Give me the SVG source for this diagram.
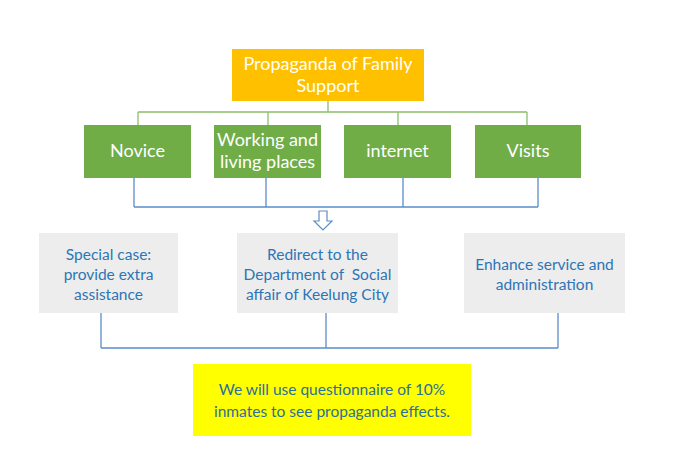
<svg xmlns="http://www.w3.org/2000/svg" width="678" height="474" viewBox="0 0 678 474">
<style>
text{font-family:Lato,"Open Sans","Liberation Sans",sans-serif;text-anchor:middle}
.w{fill:#fff;font-size:18px}
.b{fill:#2E75B6;font-size:15.5px}
.y{fill:#2E6F9A;font-size:15.5px}
.g{fill:#70AD47}
.gr{fill:#EDEDED}
.cg{stroke:#8CBF6A;stroke-width:1.3;fill:none}
.cb{stroke:#5B8DC9;stroke-width:1.3;fill:none}
</style>
<rect width="678" height="474" fill="#fff"/>
<g id="connectors">
<path class="cg" d="M328 101V112M138 112H527M138 112V125M268 112V125M398 112V125M527 112V125"/>
<path class="cb" d="M134 178V207M266 178V207M403 178V207M538 178V207M134 207H538"/>
<path class="cb" d="M101 313V348M326 313V348M558 313V348M101 348H558"/>
<path d="M319 211H327V221H332L323 230L314 221H319Z" fill="#fff" stroke="#5B8DC9" stroke-width="1.2"/>
</g>
<g id="top"><rect x="232" y="49" width="192" height="52" fill="#FFC000"/>
<text class="w" x="328" y="70">Propaganda of Family</text><text class="w" x="328" y="92">Support</text></g>
<g id="novice"><rect class="g" x="84" y="125" width="107" height="53"/><text class="w" x="137.5" y="157">Novice</text></g>
<g id="working"><rect class="g" x="214" y="125" width="107" height="53"/><text class="w" x="267.5" y="146">Working and</text><text class="w" x="267.5" y="168">living places</text></g>
<g id="internet"><rect class="g" x="344" y="125" width="107" height="53"/><text class="w" x="397.5" y="157">internet</text></g>
<g id="visits"><rect class="g" x="475" y="125" width="106" height="53"/><text class="w" x="528" y="157">Visits</text></g>
<g id="special"><rect class="gr" x="39" y="233" width="139" height="80"/><text class="b" x="108.5" y="260">Special case:</text><text class="b" x="108.5" y="280">provide extra</text><text class="b" x="108.5" y="300">assistance</text></g>
<g id="redirect"><rect class="gr" x="237" y="233" width="161" height="80"/><text class="b" x="317.5" y="260">Redirect to the</text><text class="b" x="317.5" y="280" xml:space="preserve">Department of  Social</text><text class="b" x="317.5" y="300">affair of Keelung City</text></g>
<g id="enhance"><rect class="gr" x="464" y="233" width="161" height="80"/><text class="b" x="544.5" y="270">Enhance service and</text><text class="b" x="544.5" y="290">administration</text></g>
<g id="note"><rect x="193" y="364" width="278" height="72" fill="#FFFF00"/><text class="y" x="332" y="395">We will use questionnaire of 10%</text><text class="y" x="332" y="417">inmates to see propaganda effects.</text></g>
</svg>
